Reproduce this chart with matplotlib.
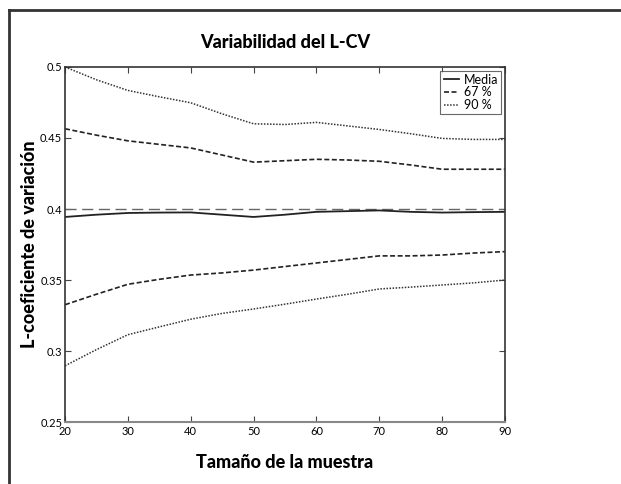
import matplotlib.pyplot as plt
from matplotlib.lines import Line2D

# sample sizes and L-CV statistics
tamano = [20, 25, 30, 35, 40, 45, 50, 55, 60, 65, 70, 75, 80, 85, 90]
media = [0.3944, 0.3960, 0.3972, 0.3975, 0.3976, 0.3960, 0.3944, 0.3960,
         0.3980, 0.3985, 0.3990, 0.3980, 0.3975, 0.3978, 0.3980]
sup_67 = [0.4565, 0.4520, 0.4480, 0.4455, 0.4430, 0.4380, 0.4330, 0.4340,
          0.4350, 0.4345, 0.4336, 0.4310, 0.4280, 0.4280, 0.4280]
inf_67 = [0.3326, 0.3400, 0.3470, 0.3505, 0.3535, 0.3550, 0.3570, 0.3595,
          0.3620, 0.3645, 0.3670, 0.3670, 0.3676, 0.3690, 0.3700]
sup_90 = [0.5000, 0.4910, 0.4835, 0.4790, 0.4748, 0.4670, 0.4600, 0.4595,
          0.4610, 0.4585, 0.4560, 0.4530, 0.4497, 0.4490, 0.4490]
inf_90 = [0.2896, 0.3010, 0.3115, 0.3170, 0.3224, 0.3265, 0.3296, 0.3330,
          0.3366, 0.3400, 0.3437, 0.3450, 0.3465, 0.3480, 0.3500]
valor_teorico = 0.4

xticks = [20, 30, 40, 50, 60, 70, 80, 90]
yticks = [0.25, 0.3, 0.35, 0.4, 0.45, 0.5]
ytick_labels = ["0.25", "0.3", "0.35", "0.4", "0.45", "0.5"]

plt.rcParams["font.family"] = ["Lato", "DejaVu Sans"]

fig = plt.figure(figsize=(6.21, 4.84), dpi=100)
ax = fig.add_axes([0.1047, 0.128, 0.7085, 0.7336])

ax.axhline(valor_teorico, color="#666666", lw=1.0, dashes=(8, 4))
ax.plot(tamano, media, color="#222222", lw=1.3, label="Media")
ax.plot(tamano, sup_67, color="#222222", lw=1.2, dashes=(3, 1.5), label="67 %")
ax.plot(tamano, inf_67, color="#222222", lw=1.2, dashes=(3, 1.5))
ax.plot(tamano, sup_90, color="#333333", lw=1.1, dashes=(1, 1), label="90 %")
ax.plot(tamano, inf_90, color="#333333", lw=1.1, dashes=(1, 1))

ax.set_xlim(20, 90)
ax.set_ylim(0.25, 0.5)
ax.set_xticks(xticks)
ax.set_yticks(yticks)
ax.set_yticklabels(ytick_labels)
ax.tick_params(direction="in", top=True, right=True, length=4,
               labelsize=8, color="#444444")
ax.tick_params(axis="x", pad=3)
ax.tick_params(axis="y", pad=2)

for side in ["left", "right", "top"]:
    ax.spines[side].set_color("#333333")
    ax.spines[side].set_linewidth(1.2)
ax.spines["bottom"].set_color("#888888")
ax.spines["bottom"].set_linewidth(1.5)

ax.set_title("Variabilidad del L-CV", fontsize=13, fontweight="black", pad=14)
ax.set_xlabel("Tamaño de la muestra", fontsize=13, fontweight="black", labelpad=12)
ax.set_ylabel("L-coeficiente de variación", fontsize=13, fontweight="black")
ax.yaxis.set_label_coords(-0.062, 0.5)

handles = [Line2D([], [], color="#222222", lw=1.3),
           Line2D([], [], color="#222222", lw=1.2, dashes=(3, 1.5)),
           Line2D([], [], color="#333333", lw=1.1, dashes=(1, 1))]
leg = ax.legend(handles, ["Media", "67 %", "90 %"], loc="upper right",
                fontsize=9, frameon=True, fancybox=False, borderpad=0.25,
                handlelength=1.2, handletextpad=0.4, labelspacing=0.05,
                borderaxespad=0.3)
leg.get_frame().set_edgecolor("#444444")
leg.get_frame().set_linewidth(0.8)

# outer frame on left and top edges
fig.add_artist(Line2D([0.014, 0.014], [0.0, 0.979], color="#333333", lw=2,
                      transform=fig.transFigure))
fig.add_artist(Line2D([0.014, 1.0], [0.979, 0.979], color="#333333", lw=2,
                      transform=fig.transFigure))

fig.savefig("out.png", dpi=100)
